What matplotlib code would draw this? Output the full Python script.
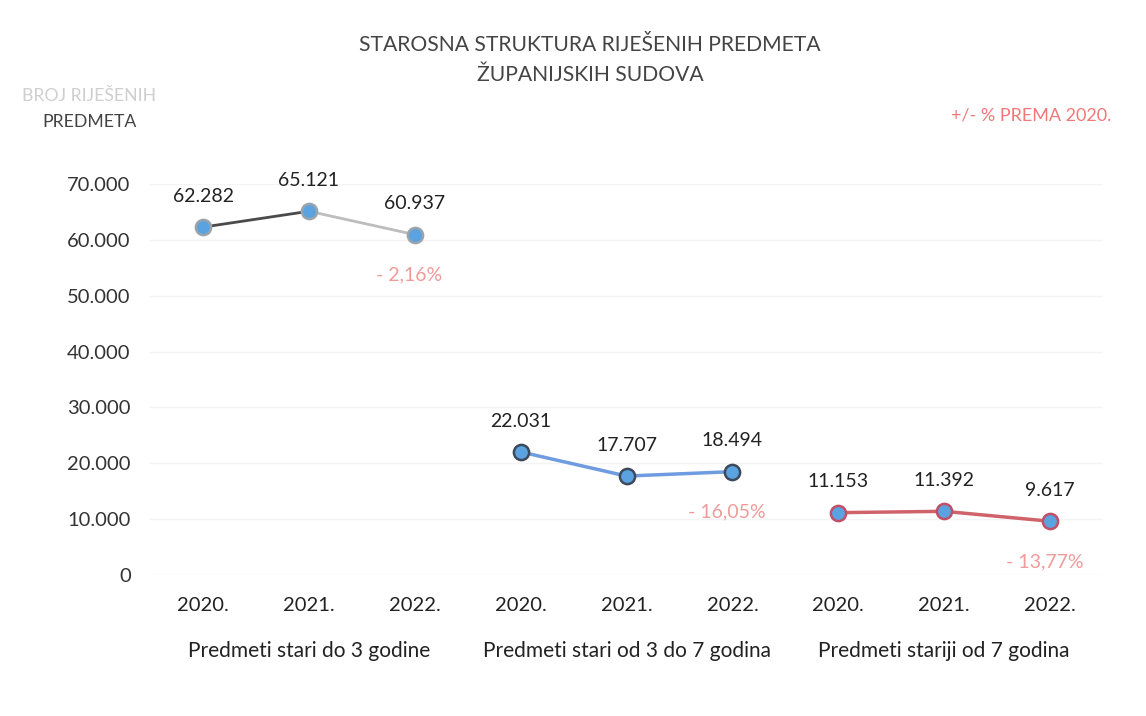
import numpy as np
import matplotlib.pyplot as plt

# --- podaci ---
years = ['2020.', '2021.', '2022.']
groups = ['Predmeti stari do 3 godine',
          'Predmeti stari od 3 do 7 godina',
          'Predmeti stariji od 7 godina']
do_3 = [62282, 65121, 60937]
od_3_do_7 = [22031, 17707, 18494]
preko_7 = [11153, 11392, 9617]
promjena = ['- 2,16%', '- 16,05%', '- 13,77%']
y_ticks = [0, 10000, 20000, 30000, 40000, 50000, 60000, 70000]


def fmt(v):
    return f'{v:,}'.replace(',', '.')


plt.rcParams['font.family'] = ['Lato', 'DejaVu Sans']

fig = plt.figure(figsize=(11.46, 7.16), dpi=100)
ax = fig.add_axes([0.131, 0.197, 0.8315, 0.546])

series = [do_3, od_3_do_7, preko_7]
line_cols = [None, '#6f9be0', '#d0636a']
edge_cols = ['#9aa4ad', '#3d4a5c', '#c0506a']

for g, vals in enumerate(series):
    x = np.arange(3) + 3 * g
    if g == 0:
        ax.plot(x[:2], vals[:2], color='#4a4a4a', lw=2, zorder=2)
        ax.plot(x[1:], vals[1:], color='#bdbdbd', lw=2, zorder=2)
    else:
        ax.plot(x, vals, color=line_cols[g], lw=2.5, zorder=2)
    ax.scatter(x, vals, s=120, color='#5ba3e0', edgecolor=edge_cols[g],
               linewidth=1.8, zorder=3)
    for xi, v in zip(x, vals):
        ax.annotate(fmt(v), (xi, v), xytext=(0, 16), textcoords='offset points',
                    ha='center', va='bottom', fontsize=14, color='#222222')
    ax.annotate(promjena[g], (x[2], vals[2]), xytext=(-4, -29),
                textcoords='offset points', ha='center', va='center',
                fontsize=14, color='#f29a9a')
    ax.text(x[1], -0.195, groups[g], transform=ax.get_xaxis_transform(),
            ha='center', va='center', fontsize=15, color='#222222')

ax.set_xlim(-0.5, 8.5)
ax.set_ylim(0, 70000)
ax.set_xticks(range(9))
ax.set_xticklabels(years * 3, fontsize=14.5, color='#222222')
ax.set_yticks(y_ticks)
ax.set_yticklabels([fmt(v) for v in y_ticks], fontsize=14.5, color='#333333')
ax.tick_params(length=0, pad=16)
ax.tick_params(axis='y', pad=14)
ax.grid(axis='y', color='#f4f4f4', lw=1)
ax.set_axisbelow(True)
for s in ax.spines.values():
    s.set_visible(False)

fig.text(0.515, 0.937, 'STAROSNA STRUKTURA RIJEŠENIH PREDMETA',
         ha='center', va='center', fontsize=15.2, color='#444444')
fig.text(0.515, 0.895, 'ŽUPANIJSKIH SUDOVA',
         ha='center', va='center', fontsize=15.2, color='#444444')
fig.text(0.078, 0.866, 'BROJ RIJEŠENIH', ha='center', va='center',
         fontsize=12.7, color='#cfcfcf')
fig.text(0.078, 0.829, 'PREDMETA', ha='center', va='center',
         fontsize=12.7, color='#444444')
fig.text(0.970, 0.838, '+/- % PREMA 2020.', ha='right', va='center',
         fontsize=13, color='#f07878')

fig.savefig('out.png', dpi=100)
